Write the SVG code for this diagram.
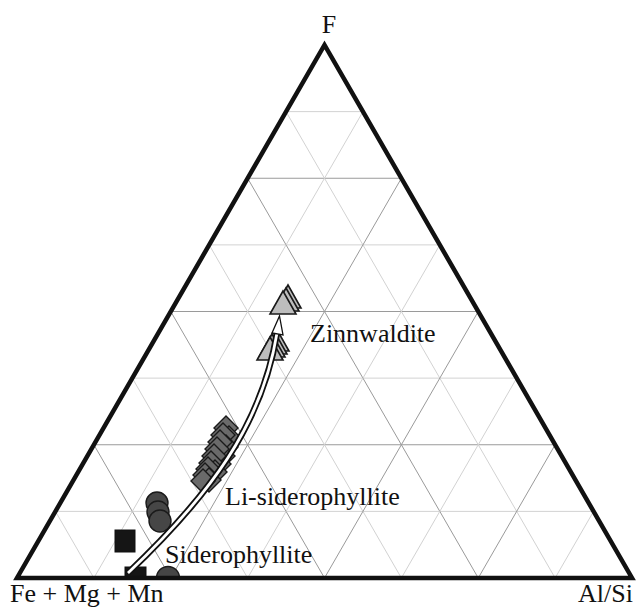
<svg xmlns="http://www.w3.org/2000/svg" width="636" height="610" viewBox="0 0 636 610">
<defs>
<style>
.maj{stroke:#9a9a9a;stroke-width:1;fill:none}
.min{stroke:#d2d2d2;stroke-width:1;fill:none}
.frame{fill:none;stroke:#111;stroke-width:4.5;stroke-linejoin:miter}
.lbl{font-family:"Liberation Serif","Times New Roman",serif;font-size:26px;fill:#111}
.tri{fill:#bdbdbd;stroke:#1a1a1a;stroke-width:1.6;stroke-linejoin:miter}
.dia{fill:#6a6a6a;stroke:#1a1a1a;stroke-width:1.4}
.cir{fill:#464646;stroke:#1a1a1a;stroke-width:1.4}
.sq{fill:#151515;stroke:#111;stroke-width:1}
</style>
<clipPath id="tclip"><polygon points="17,578 632,578 324.5,45"/></clipPath>
<path id="tr" d="M0,-12 L13,11 L-13,11 Z"/>
<path id="dm" d="M0,-12 L12,0 L0,12 L-12,0 Z"/>
</defs>
<rect width="636" height="610" fill="#fff"/>
<g id="grid">
<line class="min" x1="55.44" y1="511.375" x2="593.56" y2="511.375"/>
<line class="maj" x1="93.875" y1="444.75" x2="555.125" y2="444.75"/>
<line class="min" x1="132.31" y1="378.125" x2="516.69" y2="378.125"/>
<line class="maj" x1="170.75" y1="311.5" x2="478.25" y2="311.5"/>
<line class="min" x1="209.19" y1="244.875" x2="439.81" y2="244.875"/>
<line class="maj" x1="247.63" y1="178.25" x2="401.38" y2="178.25"/>
<line class="min" x1="286.06" y1="111.625" x2="362.94" y2="111.625"/>
<line class="min" x1="286.06" y1="111.625" x2="555.125" y2="578"/>
<line class="maj" x1="247.63" y1="178.25" x2="478.25" y2="578"/>
<line class="min" x1="209.19" y1="244.875" x2="401.375" y2="578"/>
<line class="maj" x1="170.75" y1="311.5" x2="324.5" y2="578"/>
<line class="min" x1="132.31" y1="378.125" x2="247.625" y2="578"/>
<line class="maj" x1="93.875" y1="444.75" x2="170.75" y2="578"/>
<line class="min" x1="55.44" y1="511.375" x2="93.875" y2="578"/>
<line class="min" x1="362.94" y1="111.625" x2="93.875" y2="578"/>
<line class="maj" x1="401.38" y1="178.25" x2="170.75" y2="578"/>
<line class="min" x1="439.81" y1="244.875" x2="247.625" y2="578"/>
<line class="maj" x1="478.25" y1="311.5" x2="324.5" y2="578"/>
<line class="min" x1="516.69" y1="378.125" x2="401.375" y2="578"/>
<line class="maj" x1="555.125" y1="444.75" x2="478.25" y2="578"/>
<line class="min" x1="593.56" y1="511.375" x2="555.125" y2="578"/>
</g>
<g id="data" clip-path="url(#tclip)">
<g id="zinnwaldite-points">
<use href="#tr" class="tri" x="288" y="297"/>
<use href="#tr" class="tri" x="286" y="300"/>
<use href="#tr" class="tri" x="283" y="303"/>
<use href="#tr" class="tri" x="276" y="340"/>
<use href="#tr" class="tri" x="274" y="343"/>
<use href="#tr" class="tri" x="272" y="346"/>
<use href="#tr" class="tri" x="270" y="349"/>
</g>
<g id="li-siderophyllite-points">
<use href="#dm" class="dia" x="226" y="428"/>
<use href="#dm" class="dia" x="229" y="438"/>
<use href="#dm" class="dia" x="223" y="435"/>
<use href="#dm" class="dia" x="226" y="447"/>
<use href="#dm" class="dia" x="220" y="442"/>
<use href="#dm" class="dia" x="223" y="456"/>
<use href="#dm" class="dia" x="217" y="449"/>
<use href="#dm" class="dia" x="219" y="464"/>
<use href="#dm" class="dia" x="214" y="456"/>
<use href="#dm" class="dia" x="211" y="463"/>
<use href="#dm" class="dia" x="215" y="472"/>
<use href="#dm" class="dia" x="208" y="469"/>
<use href="#dm" class="dia" x="205" y="475"/>
<use href="#dm" class="dia" x="209" y="480"/>
<use href="#dm" class="dia" x="203" y="481"/>
</g>
<g id="siderophyllite-points">
<circle class="cir" cx="157" cy="503" r="11"/>
<circle class="cir" cx="158" cy="512" r="11"/>
<circle class="cir" cx="160" cy="521" r="11"/>
<circle class="cir" cx="168" cy="578" r="11.5"/>
<rect class="sq" x="115" y="530" width="20" height="22"/>
<rect class="sq" x="125" y="567" width="21" height="21"/>
</g>
</g>
<g id="frame">
<polygon class="frame" points="17,578 632,578 324.5,45"/>
</g>
<g id="connectors">
<path d="M128,573 C210,495 262,425 277,333" fill="none" stroke="#111" stroke-width="6.5" stroke-linecap="butt"/>
<path d="M128,573 C210,495 262,425 277,333" fill="none" stroke="#fff" stroke-width="2.8" stroke-linecap="butt"/>
<polygon points="279.5,316 283,335 272,333" fill="#fff" stroke="#111" stroke-width="1.3" stroke-linejoin="miter"/>
</g>
<g id="labels">
<text class="lbl" x="329" y="33" text-anchor="middle">F</text>
<text class="lbl" x="10" y="602">Fe + Mg + Mn</text>
<text class="lbl" x="633" y="602" text-anchor="end">Al/Si</text>
<text class="lbl" x="310" y="342">Zinnwaldite</text>
<text class="lbl" x="225" y="505">Li-siderophyllite</text>
<text class="lbl" x="165" y="563">Siderophyllite</text>
</g>
</svg>
